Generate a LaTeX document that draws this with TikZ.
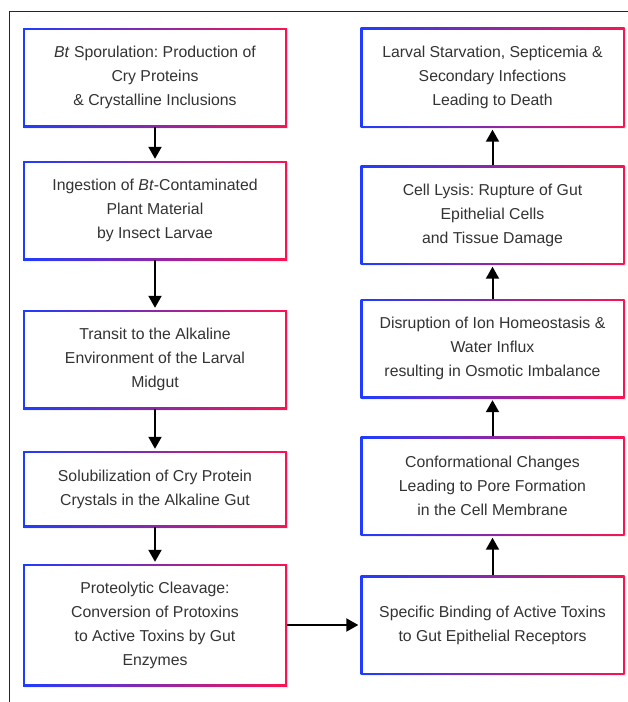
\documentclass[tikz,border=0pt]{standalone}
\usepackage{fontspec}
\setmainfont{Liberation Sans}
\usetikzlibrary{arrows.meta,shadows}
\frenchspacing

\definecolor{edgeblue}{RGB}{30,60,255}
\definecolor{edgered}{RGB}{250,20,80}
\definecolor{textgray}{RGB}{51,51,51}

\tikzset{
  stepbox/.style={rectangle, minimum width=264pt, minimum height=#1, inner sep=0pt,
    left color=edgeblue, right color=edgered, align=center, text=textgray,
    font=\fontsize{15.8}{24}\selectfont,
    drop shadow={opacity=0.12, shadow xshift=1pt, shadow yshift=-1.5pt},
    path picture={\fill[white]
      ([shift={(2pt,2pt)}]path picture bounding box.south west) rectangle
      ([shift={(-2pt,-2pt)}]path picture bounding box.north east);}},
  stepbox/.default=99pt,
  flow/.style={-{Triangle[width=13pt,length=12pt]}, line width=2pt, black, shorten >=2pt},
}

\begin{document}
\begin{tikzpicture}[x=1pt, y=1pt]
  \useasboundingbox (0,0) rectangle (628,-702);
  \draw[line width=1pt, black!85] (628,-11) -- (9,-11) -- (9,-702);

  % left column
  \node[stepbox] (spore) at (155,-77.5)
    {\textit{Bt} Sporulation: Production of\\Cry Proteins\\\& Crystalline Inclusions};
  \node[stepbox] (ingest) at (155,-210.5)
    {Ingestion of \textit{Bt}-Contaminated\\Plant Material\\by Insect Larvae};
  \node[stepbox] (transit) at (155,-359.5)
    {Transit to the Alkaline\\Environment of the Larval\\Midgut};
  \node[stepbox=76pt] (solub) at (155,-489)
    {Solubilization of Cry Protein\\Crystals in the Alkaline Gut};
  \node[stepbox=122pt] (cleave) at (155,-625)
    {Proteolytic Cleavage:\\Conversion of Protoxins\\to Active Toxins by Gut\\Enzymes};

  % right column
  \node[stepbox] (bind) at (492.5,-625)
    {Specific Binding of Active Toxins\\to Gut Epithelial Receptors};
  \node[stepbox] (conform) at (492.5,-486)
    {Conformational Changes\\Leading to Pore Formation\\in the Cell Membrane};
  \node[stepbox] (disrupt) at (492.5,-348.5)
    {Disruption of Ion Homeostasis \&\\Water Influx\\resulting in Osmotic Imbalance};
  \node[stepbox] (lysis) at (492.5,-215)
    {Cell Lysis: Rupture of Gut\\Epithelial Cells\\and Tissue Damage};
  \node[stepbox=100pt] (death) at (492.5,-77.5)
    {Larval Starvation, Septicemia \&\\Secondary Infections\\Leading to Death};

  \draw[flow] (spore) -- (ingest);
  \draw[flow] (ingest) -- (transit);
  \draw[flow] (transit) -- (solub);
  \draw[flow] (solub) -- (cleave);
  \draw[flow] (cleave) -- (bind);
  \draw[flow] (bind) -- (conform);
  \draw[flow] (conform) -- (disrupt);
  \draw[flow] (disrupt) -- (lysis);
  \draw[flow] (lysis) -- (death);
\end{tikzpicture}
\end{document}
